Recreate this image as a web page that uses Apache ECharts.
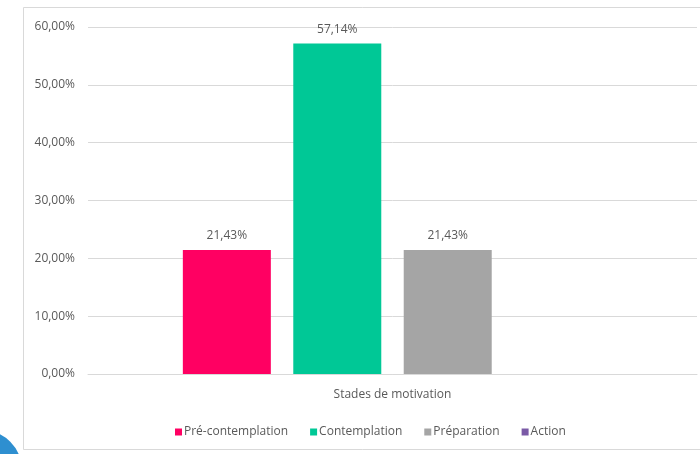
<!DOCTYPE html>
<html><head><meta charset="utf-8">
<script src="https://cdn.jsdelivr.net/npm/echarts@6/dist/echarts.min.js"></script>
<style>html,body{margin:0;padding:0;background:#fff}#c{width:700px;height:454px}</style>
</head><body><div id="c"></div>
<script>
const categories = ["Stades de motivation"];
const seriesNames = ["Pré-contemplation", "Contemplation", "Préparation", "Action"];
const preContemplation = [21.43];
const contemplation = [57.14];
const preparation = [21.43];
const action = [0];
const yTicks = [0, 10, 20, 30, 40, 50, 60];
const colors = ["#FF0062", "#00C896", "#A5A5A5", "#7A5AA6"];

const values = [preContemplation, contemplation, preparation, action];
const fmt = v => v.toFixed(2).replace('.', ',') + '%';
const font = '"Open Sans", "Noto Sans", sans-serif';

const chart = echarts.init(document.getElementById('c'));
chart.setOption({
  animation: false,
  backgroundColor: '#fff',
  textStyle: { fontFamily: font },
  graphic: [
    { type: 'rect', shape: { x: 23.5, y: 7.5, width: 690, height: 442 }, style: { fill: 'none', stroke: '#d9d9d9', lineWidth: 1 }, z: -1 },
    { type: 'circle', shape: { cx: -18, cy: 470, r: 40 }, style: { fill: '#2E8FD0' }, z: 10 }
  ],
  grid: { left: 88, right: 3, top: 27, bottom: 80, containLabel: false },
  legend: {
    bottom: 11,
    left: 170,
    itemWidth: 7, itemHeight: 7, itemGap: 22,
    icon: 'rect',
    textStyle: { color: '#595959', fontSize: 12, fontFamily: font, padding: [0, 0, 0, -3] },
    data: seriesNames
  },
  xAxis: {
    type: 'category',
    data: categories,
    axisLine: { lineStyle: { color: '#d9d9d9' } },
    axisTick: { show: false },
    axisLabel: { color: '#595959', fontSize: 12, margin: 15 }
  },
  yAxis: {
    type: 'value',
    min: yTicks[0], max: yTicks[yTicks.length - 1], interval: 10,
    axisLine: { show: false }, axisTick: { show: false },
    splitLine: { lineStyle: { color: '#d9d9d9' } },
    axisLabel: { color: '#595959', fontSize: 12, margin: 13, formatter: v => fmt(v) }
  },
  series: seriesNames.map((name, i) => ({
    name,
    type: 'bar',
    data: values[i],
    barWidth: 88,
    barGap: '25.5%',
    itemStyle: { color: colors[i] },
    label: {
      show: values[i][0] > 0,
      position: 'top',
      distance: 8,
      color: '#595959',
      fontSize: 12,
      formatter: p => fmt(p.value)
    }
  }))
});
</script></body></html>
